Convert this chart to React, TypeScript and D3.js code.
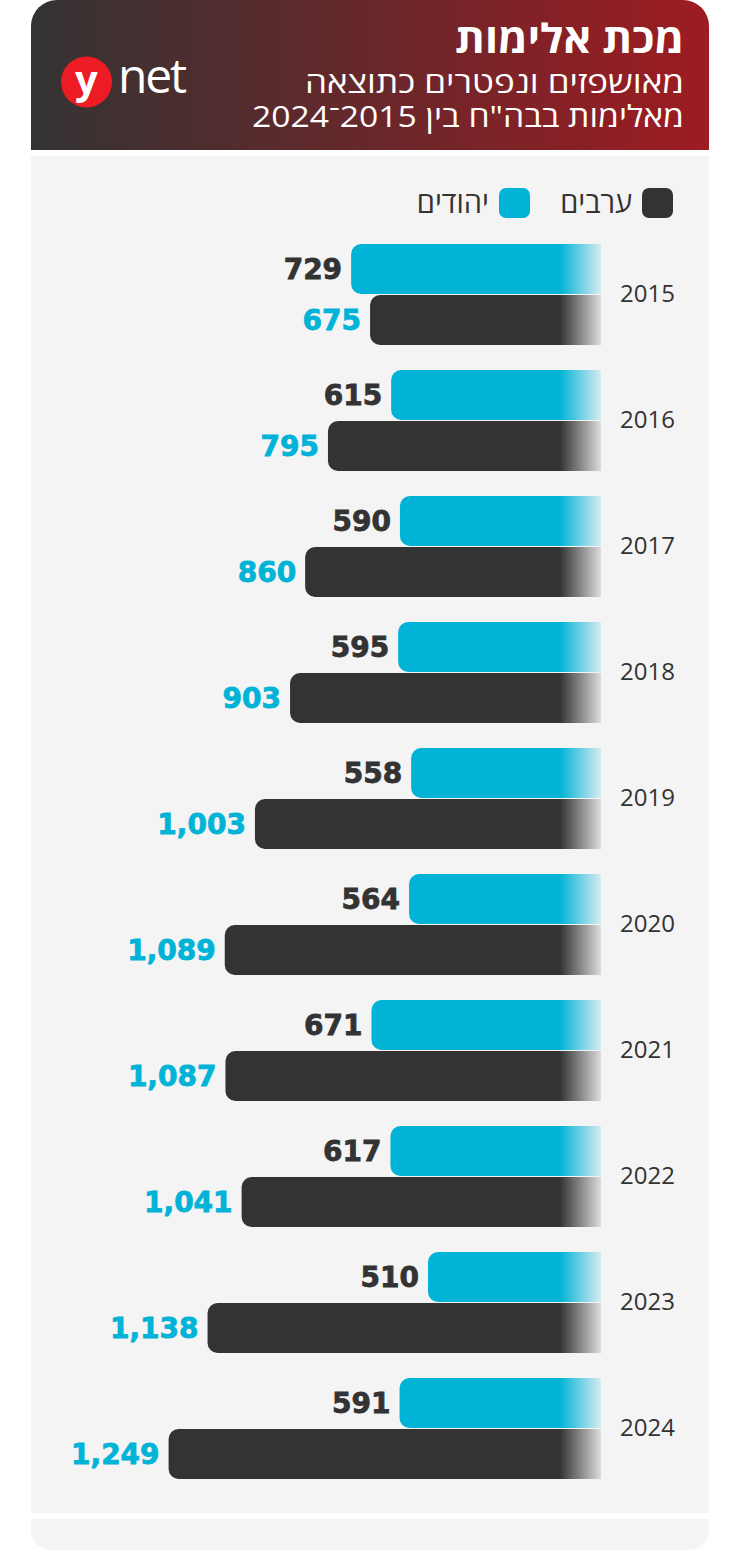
import React from "react";
import * as d3 from "d3";

// data
const years = ["2015", "2016", "2017", "2018", "2019", "2020", "2021", "2022", "2023", "2024"];
const jews = [729, 615, 590, 595, 558, 564, 671, 617, 510, 591];
const arabs = [675, 795, 860, 903, 1003, 1089, 1087, 1041, 1138, 1249];
const legendLabels = ["ערבים", "יהודים"];
const title = "מכת אלימות";
const subtitle = ["מאושפזים ונפטרים כתוצאה", 'מאלימות בבה"ח בין 2015־2024'];

const W = 740,
  H = 1552;
const BLUE = "#00b3d7";
const DARK = "#333333";
const GRAY = "#f4f4f4";
const FONT = "'Open Sans', 'DejaVu Sans', sans-serif";
const NUMFONT = "'DejaVu Sans', sans-serif";

const cardL = 31,
  cardR = 709;
const fadeStart = 560,
  fadeEnd = 601;

export default function App() {
  const y = d3.scaleBand<string>().domain(years).range([244, 244 + 126 * years.length]);
  const sub = d3.scaleBand<string>().domain(["jews", "arabs"]).range([0, 101]).paddingInner(0.02);
  const x = d3.scaleLinear().domain([0, 1300]).range([607, 607 - 0.351 * 1300]);
  const fmt = d3.format(",");
  const r = 10;

  const barPath = (v: number, top: number, h: number) => {
    const x0 = x(v);
    const p = d3.path();
    p.moveTo(fadeEnd, top);
    p.lineTo(x0 + r, top);
    p.arcTo(x0, top, x0, top + r, r);
    p.lineTo(x0, top + h - r);
    p.arcTo(x0, top + h, x0 + r, top + h, r);
    p.lineTo(fadeEnd, top + h);
    p.closePath();
    return p.toString();
  };

  const series = [
    { key: "jews", values: jews, fill: BLUE, labelColor: DARK },
    { key: "arabs", values: arabs, fill: DARK, labelColor: BLUE },
  ];

  const headerPath = (() => {
    const p = d3.path();
    const rr = 26;
    p.moveTo(cardL, 150);
    p.lineTo(cardL, rr);
    p.arcTo(cardL, 0, cardL + rr, 0, rr);
    p.lineTo(cardR - rr, 0);
    p.arcTo(cardR, 0, cardR, rr, rr);
    p.lineTo(cardR, 150);
    p.closePath();
    return p.toString();
  })();

  const footPath = (() => {
    const p = d3.path();
    const rr = 20;
    p.moveTo(cardL, 1519);
    p.lineTo(cardR, 1519);
    p.lineTo(cardR, 1550 - rr);
    p.arcTo(cardR, 1550, cardR - rr, 1550, rr);
    p.lineTo(cardL + rr, 1550);
    p.arcTo(cardL, 1550, cardL, 1550 - rr, rr);
    p.closePath();
    return p.toString();
  })();

  return (
    <svg
      width={W}
      height={H}
      viewBox={`0 0 ${W} ${H}`}
      style={{ position: "absolute", left: 0, top: 0, background: "#fff" }}
    >
      <defs>
        <linearGradient id="hdr" x1="0" x2="1" y1="0" y2="0">
          <stop offset="0" stopColor="#333333" />
          <stop offset="1" stopColor="#9d1c22" />
        </linearGradient>
        <linearGradient id="fade" gradientUnits="userSpaceOnUse" x1={fadeStart} x2={fadeEnd} y1="0" y2="0">
          <stop offset="0" stopColor="#fff" stopOpacity="1" />
          <stop offset="1" stopColor="#fff" stopOpacity="0.12" />
        </linearGradient>
        <mask id="fadeMask" maskUnits="userSpaceOnUse" x="0" y="0" width={W} height={H}>
          <rect x="0" y="0" width={W} height={H} fill="url(#fade)" />
        </mask>
      </defs>

      {/* card */}
      <path d={headerPath} fill="url(#hdr)" />
      <rect x={cardL} y={156} width={cardR - cardL} height={1513 - 156} fill={GRAY} />
      <path d={footPath} fill={GRAY} />

      {/* header text */}
      <text
        x={684}
        y={53}
        fill="#fff"
        fontFamily={FONT}
        fontWeight={700}
        fontSize={40}
        textAnchor="end"
        textLength={229}
        lengthAdjust="spacingAndGlyphs"
      >
        {title}
      </text>
      {subtitle.map((s, i) => (
        <text
          key={i}
          x={684}
          y={93 + i * 34}
          fill="#fff"
          fontFamily={FONT}
          fontWeight={400}
          fontSize={30}
          textAnchor="end"
          textLength={i === 0 ? 379 : 432}
          lengthAdjust="spacingAndGlyphs"
        >
          {s}
        </text>
      ))}

      {/* ynet logo */}
      <circle cx={86.5} cy={82} r={25.5} fill="#ed1c24" />
      <text x={86.5} y={94} fill="#fff" fontFamily={FONT} fontWeight={700} fontSize={40} textAnchor="middle">
        y
      </text>
      <text x={118} y={93} fill="#fff" fontFamily={FONT} fontWeight={500} fontSize={48} textLength={69}>
        net
      </text>

      {/* legend */}
      {legendLabels.map((l, i) => (
        <g key={l} transform={`translate(${673 - i * 143},0)`}>
          <rect x={-31} y={188} width={31} height={30} rx={7} fill={i === 0 ? DARK : BLUE} />
          <text x={-41} y={213} fill={DARK} fontFamily={FONT} fontSize={29} textAnchor="end">
            {l}
          </text>
        </g>
      ))}

      {/* bars */}
      <g mask="url(#fadeMask)">
        {series.map((s) =>
          years.map((yr, i) => (
            <path key={s.key + yr} d={barPath(s.values[i], y(yr)! + sub(s.key)!, sub.bandwidth())} fill={s.fill} />
          ))
        )}
      </g>

      {/* value labels */}
      {series.map((s) =>
        years.map((yr, i) => (
          <text
            key={"l" + s.key + yr}
            x={x(s.values[i]) - 9}
            y={y(yr)! + sub(s.key)! + sub.bandwidth() / 2 + 10}
            fill={s.labelColor}
            stroke={s.labelColor}
            strokeWidth={0.8}
            fontFamily={NUMFONT}
            fontWeight={700}
            fontSize={28}
            textAnchor="end"
          >
            {fmt(s.values[i])}
          </text>
        ))
      )}

      {/* year labels */}
      {years.map((yr) => (
        <text
          key={"y" + yr}
          x={675}
          y={y(yr)! + 58}
          fill={DARK}
          fontFamily={FONT}
          fontSize={24}
          textAnchor="end"
        >
          {yr}
        </text>
      ))}
    </svg>
  );
}
